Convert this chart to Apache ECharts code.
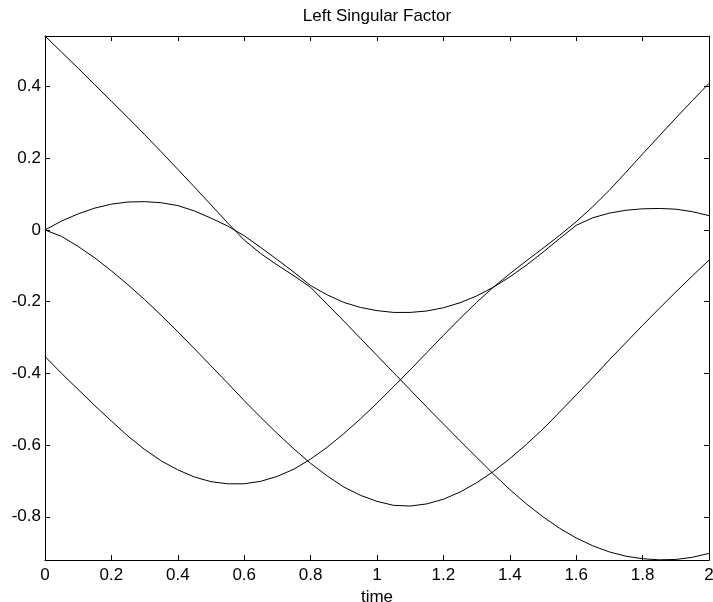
<!DOCTYPE html>
<html>
<head>
<meta charset="utf-8">
<script src="https://cdn.jsdelivr.net/npm/echarts@6/dist/echarts.min.js"></script>
<style>
html,body{margin:0;padding:0;background:#fff;}
#c{width:713px;height:602px;}
</style>
</head>
<body>
<div id="c"></div>
<script>
// time samples (step 0.05)
var timeValues = [0, 0.05, 0.1, 0.15, 0.2, 0.25, 0.3, 0.35, 0.4, 0.45, 0.5, 0.55, 0.6, 0.65, 0.7, 0.75, 0.8, 0.85, 0.9, 0.95,
  1.0, 1.05, 1.1, 1.15, 1.2, 1.25, 1.3, 1.35, 1.4, 1.45, 1.5, 1.55, 1.6, 1.65, 1.7, 1.75, 1.8, 1.85, 1.9, 1.95, 2.0];
// four singular factor curves
var factor1 = [0.541, 0.496, 0.451, 0.405, 0.359, 0.313, 0.266, 0.218, 0.169, 0.120, 0.070, 0.020, -0.028, -0.066, -0.098, -0.128,
  -0.160, -0.207, -0.254, -0.302, -0.350, -0.398, -0.446, -0.494, -0.541, -0.588, -0.634, -0.680, -0.724, -0.764, -0.800,
  -0.832, -0.859, -0.881, -0.898, -0.910, -0.917, -0.920, -0.919, -0.913, -0.902];
var factor2 = [0, 0.025, 0.045, 0.061, 0.072, 0.078, 0.079, 0.076, 0.068, 0.053, 0.033, 0.011, -0.016, -0.049, -0.083, -0.118,
  -0.155, -0.181, -0.202, -0.216, -0.225, -0.230, -0.230, -0.226, -0.217, -0.203, -0.184, -0.160, -0.131, -0.098, -0.062,
  -0.024, 0.013, 0.034, 0.047, 0.055, 0.059, 0.060, 0.058, 0.051, 0.040];
var factor3 = [0, -0.018, -0.046, -0.078, -0.114, -0.153, -0.194, -0.238, -0.284, -0.331, -0.379, -0.427, -0.476, -0.523, -0.568, -0.611,
  -0.651, -0.686, -0.717, -0.740, -0.757, -0.768, -0.770, -0.764, -0.751, -0.731, -0.705, -0.674, -0.638, -0.598, -0.555,
  -0.508, -0.460, -0.412, -0.362, -0.314, -0.266, -0.219, -0.173, -0.128, -0.084];
var factor4 = [-0.353, -0.400, -0.445, -0.490, -0.533, -0.575, -0.612, -0.644, -0.669, -0.689, -0.702, -0.708, -0.708, -0.701, -0.687, -0.667,
  -0.639, -0.606, -0.568, -0.527, -0.483, -0.437, -0.390, -0.342, -0.294, -0.247, -0.202, -0.160, -0.122, -0.086, -0.051,
  -0.015, 0.023, 0.065, 0.111, 0.161, 0.212, 0.262, 0.312, 0.361, 0.409];
// axis settings
var xTicks = {min: 0, max: 2, step: 0.2};
var yRange = {min: -0.9205, max: 0.541, step: 0.2};
var titleText = 'Left Singular Factor';
var xName = 'time';

var FONT = 'Liberation Sans';
function pairs(vals){ return timeValues.map(function(t,i){ return [t, vals[i]]; }); }
function mkSeries(vals){
  return {type:'line', data:pairs(vals), showSymbol:false, smooth:false,
    lineStyle:{color:'#000', width:1}, emphasis:{disabled:true}, silent:true,
    xAxisIndex:0, yAxisIndex:0};
}
var tickStyle = {show:true, inside:true, length:5, lineStyle:{color:'#000', width:1}};
var lineStyle = {show:true, onZero:false, lineStyle:{color:'#000', width:1}};
var chart = echarts.init(document.getElementById('c'), null, {renderer:'canvas'});
chart.setOption({
  animation:false,
  backgroundColor:'#fff',
  graphic:[{type:'text', x:377, y:16, silent:true,
    style:{text:titleText, fill:'#000', font:'17px "Liberation Sans"', textAlign:'center', textVerticalAlign:'middle'}}],
  grid:{left:45, right:4, top:36, bottom:42, containLabel:false, outerBoundsMode:'none'},
  xAxis:[
    {type:'value', min:xTicks.min, max:xTicks.max, interval:xTicks.step, position:'bottom',
     name:xName, nameLocation:'middle', nameGap:20,
     nameTextStyle:{fontFamily:FONT, fontSize:17, color:'#000'},
     axisLine:lineStyle, axisTick:tickStyle, splitLine:{show:false},
     axisLabel:{fontFamily:FONT, fontSize:17, color:'#000', margin:7}},
    {type:'value', min:xTicks.min, max:xTicks.max, interval:xTicks.step, position:'top',
     axisLine:lineStyle, axisTick:tickStyle, splitLine:{show:false}, axisLabel:{show:false}}
  ],
  yAxis:[
    {type:'value', min:yRange.min, max:yRange.max, minInterval:yRange.step, maxInterval:yRange.step,
     position:'left', axisLine:lineStyle, axisTick:tickStyle, splitLine:{show:false},
     axisLabel:{fontFamily:FONT, fontSize:17, color:'#000', margin:4, showMinLabel:false, showMaxLabel:false}},
    {type:'value', min:yRange.min, max:yRange.max, minInterval:yRange.step, maxInterval:yRange.step,
     position:'right', axisLine:lineStyle, axisTick:tickStyle, splitLine:{show:false}, axisLabel:{show:false}}
  ],
  series:[mkSeries(factor1), mkSeries(factor2), mkSeries(factor3), mkSeries(factor4)]
});
</script>
</body>
</html>
